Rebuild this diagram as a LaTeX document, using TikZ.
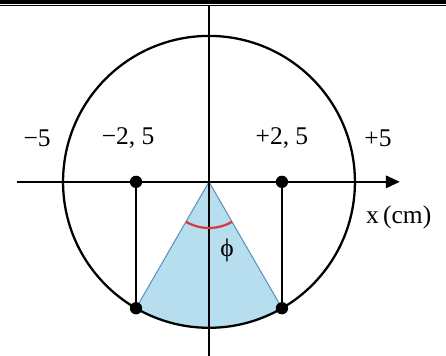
\documentclass[tikz,border=0pt]{standalone}
\usepackage{fontspec}
\setmainfont{Liberation Serif}
\usetikzlibrary{arrows.meta}
\definecolor{cSector}{RGB}{182, 222, 238}
\definecolor{cEdge}  {RGB}{ 95, 145, 190}
\definecolor{cAngle} {RGB}{215,  60,  60}
\tikzset{
  axis/.style   = {line width=1.4pt},
  arrowAx/.style= {axis, -{Triangle[length=8pt, width=7pt]}},
  proj/.style   = {line width=1.4pt},
  dot/.style    = {circle, fill=black, inner sep=0pt, minimum size=7pt},
  lbl/.style    = {font=\fontsize{14.5}{16}\selectfont, inner sep=1pt},
}

\begin{document}
\begin{tikzpicture}[x=0.584cm, y=0.584cm]
\useasboundingbox (-7.16,-5.96) rectangle (8.12,6.23);

%% ─── Header rules ───────────────────────────────────────────
\draw[line width=2pt]   (-7.16,6.17) -- (8.12,6.17);
\draw[line width=0.6pt] (-7.16,6.04) -- (8.12,6.04);

%% ─── Points ─────────────────────────────────────────────────
\coordinate (O) at (0,0);
\coordinate (xL) at (-6.58,0);
\coordinate (xR) at (6.54,0);
\coordinate (yT) at (0,6.04);
\coordinate (yB) at (0,-5.96);

%% sector
\fill[cSector] (O) -- (-2.5,-4.33) arc[start angle=-120, end angle=-60, radius=5] -- cycle;
\draw[cEdge, line width=0.6pt] (-2.5,-4.33) -- (O) -- (2.5,-4.33);

%% circle
\draw[line width=1.3pt] (O) circle[radius=5];

%% axes
\draw[arrowAx] (xL) -- (xR);
\draw[axis, line width=1.1pt] (yT) -- (yB);

%% angle
\draw[cAngle, line width=1.3pt] (-120:1.58) arc[start angle=-120, end angle=-60, radius=1.58];

%% projections
\node[dot] (Pm)  at (-2.5,0) {};
\node[dot] (Pp)  at (2.5,0) {};
\node[dot] (Mm)  at (-2.5,-4.33) {};
\node[dot] (Mp)  at (2.5,-4.33) {};
\draw[proj] (Pm.center) -- (Mm.center);
\draw[proj] (Pp.center) -- (Mp.center);

%% labels
\node[lbl] (l5m)  at (-5.89,1.5) {−5};
\node[lbl] (l25m) at (-2.77,1.5) {−2, 5};
\node[lbl] (l25p) at (2.5,1.5)   {+2, 5};
\node[lbl] (l5p)  at (5.79,1.5)  {+5};
\node[lbl] (lx)   at (6.5,-1.2)   {x\,(cm)};
\node[lbl] (lphi) at (0.62,-2.35)  {\symbol{"03D5}};

\end{tikzpicture}
\end{document}
